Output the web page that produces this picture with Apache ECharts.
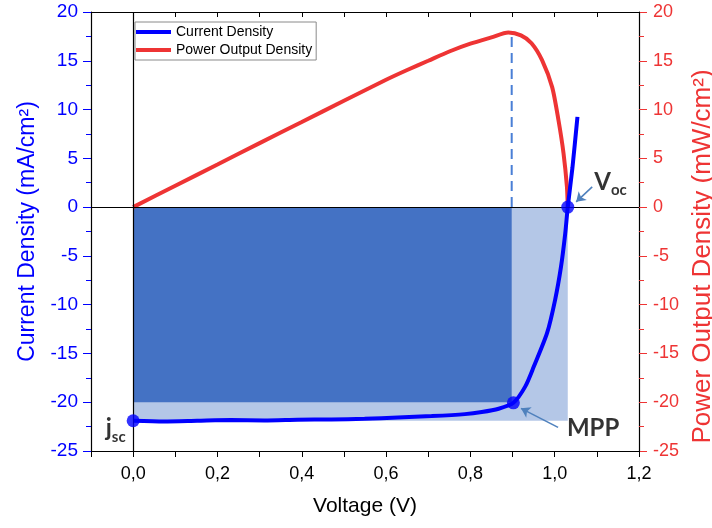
<!doctype html>
<html>
    <head>
        <meta charset="utf-8">
        <title>J-V curve</title>
        <style>
            html, body { margin: 0; padding: 0; background: #fff; }
            #main { width: 712px; height: 528px; }
        </style>
    </head>
    <body>
        <div id="main"></div>
        <script src="https://cdn.jsdelivr.net/npm/echarts@6/dist/echarts.min.js"></script>
        <script>
            // values
            var voltage = [0, 0.073, 0.152, 0.232, 0.311, 0.39, 0.47, 0.549, 0.628, 0.708, 0.787, 0.827, 0.867, 0.902,
                0.93, 0.95, 0.982, 1.001, 1.015, 1.025, 1.031, 1.042, 1.054];
            var currentDensity = [-21.9, -21.97, -21.9, -21.83, -21.87, -21.8, -21.76, -21.7, -21.56, -21.42, -21.22, -21.01, -20.67, -20.06,
                -18.4, -16.4, -12.9, -9.5, -6.1, -2.7, 0, 4.0, 9.25];

            var powerVoltage = [0, 0.1, 0.2, 0.3, 0.4, 0.5, 0.6, 0.65, 0.7, 0.75, 0.8, 0.85, 0.89, 0.92, 0.945, 0.97, 0.994, 1.009, 1.021, 1.029, 1.031];
            var powerDensity = [0, 2.19, 4.37, 6.56, 8.73, 10.9, 13.05, 14.05, 15.0, 15.95, 16.75, 17.4, 17.9, 17.6, 16.8, 15.07, 12.3, 8.9, 5.5, 2.1, 0];

            var keyNames = ['jsc', 'MPP', 'Voc'];
            var keyV = [0, 0.902, 1.031];
            var keyJ = [-21.9, -20.06, 0];
            var mpp = { v: 0.898, j: -20.0, p: 17.9 };
            var jsc = -21.9;
            var voc = 1.031;

            var yTicks = [-25, 20, 5];
            var xTicks = [-0.1, 1.2, 0.1];

            var chart = echarts.init(document.getElementById('main'));
            var FONT = "'Liberation Sans', Arial, sans-serif";
            var BOLD = "Lato, 'Open Sans', sans-serif";
            var BLUE = '#0000ff';
            var RED = '#ee3434';

            function pairs(xs, ys) {
                return xs.map(function (x, i) { return [x, ys[i]]; });
            }

            var labelPlace = {
                jsc: { position: 'left', offset: [4, 7] },
                MPP: { position: 'right', offset: [42, 24] },
                Voc: { position: 'right', offset: [15, -26] }
            };

            var xCommon = {
                type: 'value',
                min: xTicks[0],
                max: xTicks[1],
                interval: xTicks[2],
                splitLine: { show: false },
                axisLine: { onZero: false, lineStyle: { color: '#000', width: 1.2 } }
            };

            chart.setOption({
                animation: false,
                grid: { left: 91, top: 12, width: 548, height: 439, containLabel: false, outerBoundsMode: 'none' },
                legend: {
                    left: 135,
                    top: 22,
                    orient: 'vertical',
                    data: ['Current Density', 'Power Output Density'],
                    icon: 'rect',
                    itemWidth: 35,
                    itemHeight: 4,
                    itemGap: 4,
                    padding: [3, 4, 3, 1],
                    borderColor: '#8a8a8a',
                    borderWidth: 1,
                    borderRadius: 0,
                    backgroundColor: '#fff',
                    textStyle: { fontFamily: FONT, fontSize: 14, color: '#000' }
                },
                xAxis: [
                    Object.assign({}, xCommon, {
                        position: 'bottom',
                        name: 'Voltage (V)',
                        nameLocation: 'middle',
                        nameGap: 45,
                        nameTextStyle: { fontFamily: FONT, fontSize: 21, color: '#000' },
                        axisTick: { inside: false, length: 6, lineStyle: { color: '#000' } },
                        axisLabel: {
                            fontFamily: FONT, fontSize: 18, color: '#000', margin: 14,
                            formatter: function (v) {
                                var k = Math.round(v * 10);
                                return (k % 2 === 0) ? (k / 10).toFixed(1).replace('.', ',') : '';
                            }
                        }
                    }),
                    Object.assign({}, xCommon, {
                        position: 'top',
                        axisTick: { inside: true, length: 5, lineStyle: { color: '#000' } },
                        axisLabel: { show: false }
                    })
                ],
                yAxis: [
                    {
                        type: 'value',
                        position: 'left',
                        min: yTicks[0], max: yTicks[1], interval: yTicks[2],
                        name: 'Current Density (mA/cm²)',
                        nameLocation: 'middle',
                        nameGap: 52,
                        nameTextStyle: { fontFamily: FONT, fontSize: 23, color: BLUE },
                        splitLine: { show: false },
                        axisLine: { show: true, onZero: false, lineStyle: { color: '#000', width: 1.2 } },
                        axisTick: { show: true, length: 8, lineStyle: { color: BLUE } },
                        minorTick: { show: true, splitNumber: 2, length: 5, lineStyle: { color: BLUE } },
                        axisLabel: { fontFamily: FONT, fontSize: 19, color: BLUE, margin: 13 }
                    },
                    {
                        type: 'value',
                        position: 'right',
                        min: yTicks[0], max: yTicks[1], interval: yTicks[2],
                        name: 'Power Output Density (mW/cm²)',
                        nameLocation: 'middle',
                        nameGap: 44,
                        nameTextStyle: { fontFamily: FONT, fontSize: 26, color: RED, padding: [0, 50, 0, 0] },
                        splitLine: { show: false },
                        axisLine: { show: true, onZero: false, lineStyle: { color: '#000', width: 1.2 } },
                        axisTick: { show: true, length: 8, lineStyle: { color: RED } },
                        minorTick: { show: true, splitNumber: 2, length: 5, lineStyle: { color: RED } },
                        axisLabel: { fontFamily: FONT, fontSize: 18, color: RED, margin: 14 }
                    }
                ],
                series: [
                    {
                        // zero lines
                        type: 'scatter',
                        data: [],
                        z: 1,
                        markLine: {
                            silent: true,
                            symbol: 'none',
                            label: { show: false },
                            lineStyle: { color: '#000', width: 1.2, type: 'solid' },
                            data: [{ xAxis: 0 }, { yAxis: 0 }]
                        }
                    },
                    {
                        // shaded rectangles
                        type: 'scatter',
                        data: [],
                        z: 2,
                        markArea: {
                            silent: true,
                            data: [
                                [{ coord: [0, jsc], itemStyle: { color: '#b4c7e7' } }, { coord: [voc, 0] }],
                                [{ coord: [0, mpp.j], itemStyle: { color: '#4472c4' } }, { coord: [mpp.v, 0] }]
                            ]
                        }
                    },
                    {
                        name: 'Power Output Density',
                        type: 'line',
                        yAxisIndex: 1,
                        z: 3,
                        showSymbol: false,
                        smooth: 0.25,
                        color: RED,
                        lineStyle: { width: 4, color: RED },
                        data: pairs(powerVoltage, powerDensity)
                    },
                    {
                        type: 'line',
                        yAxisIndex: 1,
                        z: 3,
                        showSymbol: false,
                        color: '#4a7fd6',
                        lineStyle: { width: 2, type: [10, 6], color: '#4a7fd6' },
                        data: [[mpp.v, 0], [mpp.v, mpp.p]]
                    },
                    {
                        name: 'Current Density',
                        type: 'line',
                        z: 4,
                        showSymbol: false,
                        smooth: 0.25,
                        color: BLUE,
                        lineStyle: { width: 4, color: BLUE },
                        data: pairs(voltage, currentDensity),
                        markLine: {
                            silent: true,
                            symbol: ['none', 'arrow'],
                            symbolSize: 9,
                            label: { show: false },
                            lineStyle: { color: '#4f81bd', width: 1.6, type: 'solid' },
                            data: [
                                [{ coord: [1.089, 2.08] }, { coord: [1.051, 0.54] }],
                                [{ coord: [1.008, -22.58] }, { coord: [0.92, -20.63] }]
                            ]
                        }
                    },
                    {
                        type: 'scatter',
                        z: 5,
                        symbolSize: 13,
                        itemStyle: { color: BLUE },
                        emphasis: { disabled: true },
                        data: keyNames.map(function (n, i) {
                            return {
                                name: n,
                                value: [keyV[i], keyJ[i]],
                                label: labelPlace[n]
                            };
                        }),
                        label: {
                            show: true,
                            color: '#000',
                            formatter: function (p) {
                                if (p.name === 'MPP') return '{b|MPP}';
                                if (p.name === 'Voc') return '{b|V}{s|oc}';
                                return '{b|j}{s|sc}';
                            },
                            rich: {
                                b: { fontFamily: BOLD, fontWeight: 'bold', fontSize: 24, color: '#000', verticalAlign: 'bottom', lineHeight: 26 },
                                s: { fontFamily: BOLD, fontWeight: 'bold', fontSize: 15, color: '#000', verticalAlign: 'bottom', lineHeight: 18, padding: [0, 0, -4, 0] }
                            }
                        }
                    }
                ]
            });

            window.addEventListener('resize', function () {
                chart.resize();
            });
        </script>
    </body>
</html>
